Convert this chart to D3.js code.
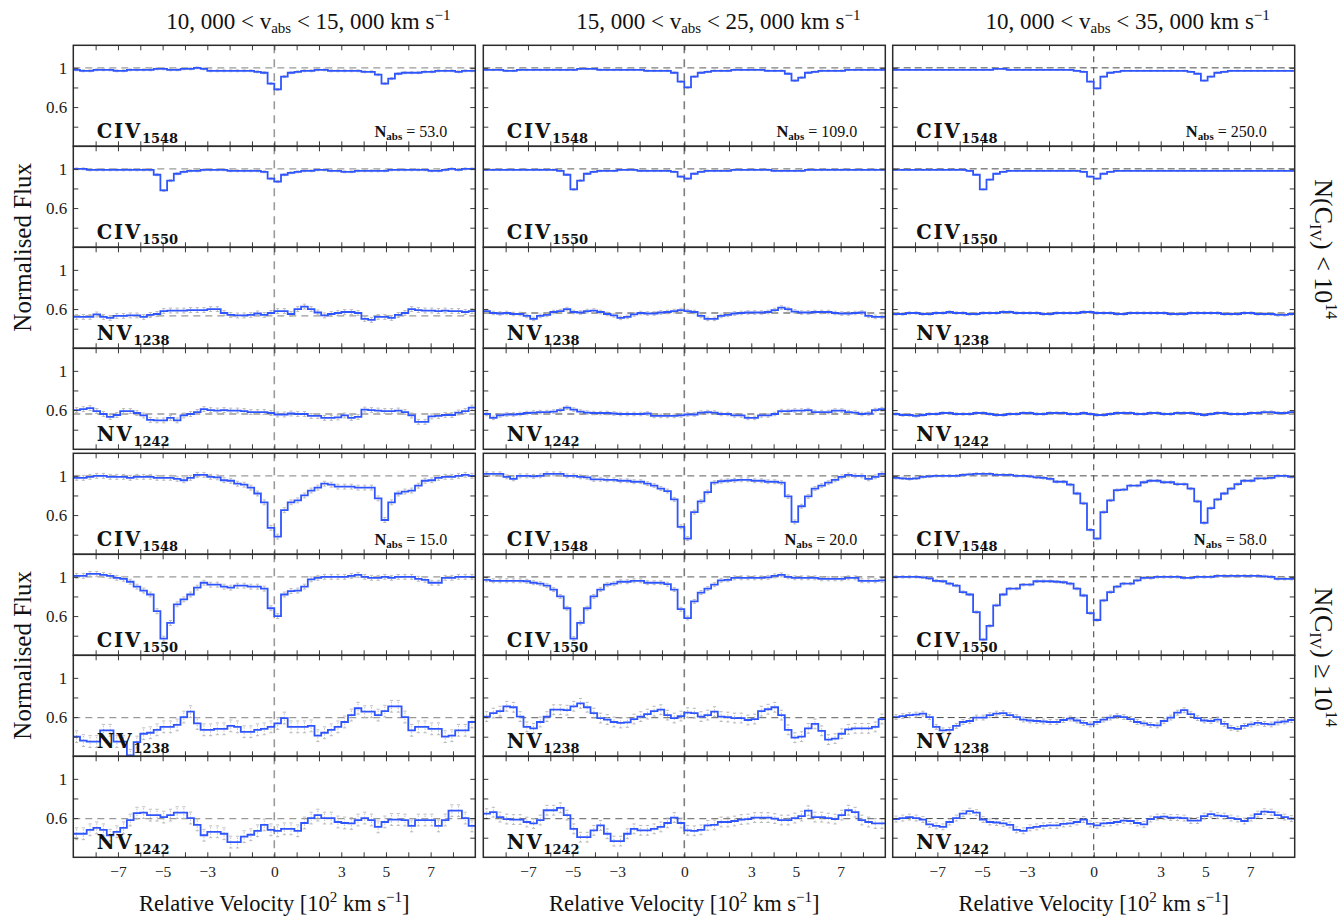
<!DOCTYPE html>
<html>
<head>
<meta charset="utf-8">
<script src="https://cdn.jsdelivr.net/npm/d3@7"></script>
<style>
  body { margin: 0; background: #fff; }
  svg { display: block; }
</style>
</head>
<body>
<svg id="chart" width="1339" height="917"></svg>
<script>
// ---- Stacked composite spectra: CIV doublet and NV doublet, binned in velocity ----

// Velocity bin centres [10^2 km/s]
const velocityBins = [-8.85,-8.55,-8.25,-7.95,-7.65,-7.35,-7.05,-6.75,-6.45,-6.15,
  -5.85,-5.55,-5.25,-4.95,-4.65,-4.35,-4.05,-3.75,-3.45,-3.15,
  -2.85,-2.55,-2.25,-1.95,-1.65,-1.35,-1.05,-0.75,-0.45,-0.15,
  0.15,0.45,0.75,1.05,1.35,1.65,1.95,2.25,2.55,2.85,
  3.15,3.45,3.75,4.05,4.35,4.65,4.95,5.25,5.55,5.85,
  6.15,6.45,6.75,7.05,7.35,7.65,7.95,8.25,8.55,8.85];

// Velocity windows (one per column)
const windowLow = ["10, 000", "15, 000", "10, 000"];
const windowHigh = ["15, 000", "25, 000", "35, 000"];

// Number of absorbers stacked, per column
const nAbsWeak = [53.0, 109.0, 250.0];
const nAbsStrong = [15.0, 20.0, 58.0];

// ---- N(CIV) < 10^14 ----
const civ1548Weak = [
  [.98,.97,.97,.98,.98,.98,.97,.97,.98,.98, .98,.98,.99,.99,.98,.98,.99,.99,1.0,.99, .97,.97,.97,.97,.97,.97,.97,.96,.95,.84, .78,.91,.95,.96,.97,.97,.98,.98,.97,.97, .97,.97,.97,.96,.96,.93,.84,.89,.94,.95, .95,.95,.96,.96,.97,.97,.97,.96,.97,.97],
  [.98,.98,.98,.97,.97,.98,.98,.98,.98,.98, .98,.98,.98,.98,.99,.99,.99,.98,.98,.98, .98,.98,.98,.98,.97,.97,.97,.97,.95,.86, .80,.91,.95,.96,.97,.97,.97,.98,.98,.98, .98,.98,.97,.97,.97,.94,.87,.90,.95,.96, .97,.97,.97,.97,.98,.98,.98,.98,.98,.98],
  [.98,.98,.98,.98,.98,.98,.98,.98,.98,.98, .98,.98,.98,.98,.98,.99,.99,.98,.98,.98, .98,.98,.98,.98,.98,.98,.98,.97,.96,.86, .79,.91,.95,.96,.97,.97,.97,.97,.97,.97, .97,.97,.97,.97,.96,.94,.87,.91,.95,.96, .97,.97,.97,.97,.97,.97,.97,.97,.97,.97]
];
const civ1550Weak = [
  [1.0,1.0,.99,.99,.99,.99,.99,.99,.99,.99, .99,.99,.94,.78,.88,.95,.97,.98,.98,.99, .99,.99,.99,.98,.98,.98,.98,.98,.97,.90, .87,.94,.96,.97,.98,.98,.99,.99,.98,.98, .97,.97,.98,.98,.98,.98,.98,.99,.99,.99, .99,.99,.99,.98,.98,.99,1.0,.99,1.0,1.0],
  [.99,.99,.99,.99,.99,.99,.99,.99,.99,.99, .99,.98,.94,.79,.88,.95,.97,.98,.98,.98, .99,.99,.99,.98,.98,.98,.98,.98,.97,.92, .90,.95,.97,.98,.98,.98,.98,.99,.99,.99, .99,.99,.99,.98,.98,.98,.98,.98,.99,.99, .99,.99,.99,.99,.99,.99,.99,.99,.99,.99],
  [.99,.99,.99,.99,.99,.99,.99,.99,.99,.99, .99,.98,.94,.79,.89,.95,.97,.98,.98,.98, .98,.98,.98,.98,.98,.98,.98,.98,.97,.92, .90,.95,.97,.98,.98,.98,.98,.98,.98,.98, .98,.98,.98,.98,.98,.98,.98,.98,.98,.98, .98,.98,.98,.98,.98,.98,.98,.98,.98,.98]
];
const nv1238Weak = [
  [.52,.52,.52,.545,.52,.51,.53,.53,.535,.535, .52,.54,.55,.58,.585,.585,.585,.59,.59,.59, .60,.60,.56,.54,.535,.535,.54,.555,.54,.56, .58,.58,.55,.60,.625,.60,.565,.535,.55,.56, .57,.57,.56,.50,.49,.52,.52,.51,.54,.56, .60,.59,.585,.585,.58,.585,.58,.58,.57,.58],
  [.58,.56,.555,.56,.55,.55,.53,.50,.53,.54, .57,.58,.60,.57,.565,.58,.585,.57,.55,.535, .51,.52,.545,.56,.555,.555,.565,.57,.58,.59, .58,.57,.53,.50,.50,.53,.54,.555,.56,.565, .565,.565,.57,.59,.615,.60,.575,.565,.565,.57, .57,.57,.56,.555,.555,.56,.565,.53,.52,.52],
  [.55,.55,.56,.56,.55,.55,.56,.56,.57,.56, .56,.55,.55,.56,.56,.56,.57,.57,.56,.56, .56,.56,.55,.55,.56,.56,.56,.56,.57,.57, .56,.56,.56,.55,.55,.56,.56,.56,.56,.56, .56,.55,.55,.55,.56,.56,.56,.56,.56,.55, .55,.55,.56,.56,.55,.55,.55,.54,.54,.55]
];
const nv1242Weak = [
  [.60,.61,.62,.59,.56,.53,.55,.59,.59,.57, .545,.50,.495,.495,.52,.495,.545,.56,.58,.61, .60,.595,.60,.595,.595,.59,.58,.58,.58,.57, .555,.555,.565,.56,.56,.54,.54,.52,.52,.525, .545,.52,.53,.605,.60,.595,.59,.59,.595,.58, .545,.48,.48,.535,.54,.55,.55,.575,.59,.625],
  [.56,.52,.545,.555,.555,.56,.57,.575,.58,.58, .585,.60,.625,.605,.585,.575,.57,.57,.57,.565, .56,.56,.56,.56,.565,.54,.54,.54,.54,.545, .555,.555,.575,.58,.575,.56,.56,.545,.545,.52, .52,.545,.545,.56,.59,.59,.595,.595,.60,.58, .58,.58,.595,.595,.58,.575,.56,.565,.60,.61],
  [.56,.55,.55,.54,.55,.56,.56,.57,.57,.56, .56,.56,.57,.57,.56,.55,.55,.56,.56,.57, .57,.56,.56,.57,.57,.57,.56,.56,.57,.56, .55,.55,.56,.57,.57,.57,.56,.56,.57,.57, .56,.56,.57,.57,.57,.56,.55,.56,.57,.57, .56,.56,.56,.57,.57,.58,.58,.57,.57,.58]
];

// ---- N(CIV) >= 10^14 ----
const civ1548Strong = [
  [.98,.98,.99,1.0,1.0,.99,.99,.99,.98,.99, .99,.99,.98,.98,.98,.97,.955,.98,1.01,1.01, .99,.985,.955,.95,.92,.91,.88,.82,.73,.47, .38,.65,.73,.75,.80,.85,.88,.92,.91,.89, .89,.89,.88,.88,.88,.77,.55,.73,.82,.84, .85,.90,.95,.955,.98,.99,.99,1.0,1.01,1.0],
  [1.02,1.02,1.02,.99,.97,1.0,1.0,.995,1.0,1.02, 1.02,1.02,1.0,1.0,.99,.985,.965,.965,.96,.96, .95,.95,.94,.94,.92,.90,.87,.845,.76,.48, .36,.63,.74,.835,.93,.945,.95,.955,.96,.96, .95,.95,.94,.94,.93,.79,.53,.69,.79,.87, .90,.93,.96,.99,1.01,1.0,1.0,.97,.99,1.02],
  [.98,.975,.97,.975,.99,.995,1.0,1.0,1.0,1.0, 1.01,1.015,1.02,1.02,1.02,1.01,1.01,1.01,1.0,1.0, .995,.985,.98,.97,.94,.94,.91,.82,.72,.45, .36,.63,.75,.855,.86,.90,.90,.935,.95,.95, .935,.935,.915,.915,.87,.74,.52,.67,.76,.82, .87,.915,.95,.95,.975,.975,.98,1.0,1.0,.99]
];
const civ1550Strong = [
  [1.01,1.01,1.03,1.03,1.02,1.01,.99,.98,.95,.90, .86,.82,.65,.37,.53,.72,.77,.82,.89,.94, .92,.92,.90,.89,.91,.91,.90,.90,.88,.68, .60,.82,.855,.86,.90,.975,.99,1.0,1.0,1.0, 1.0,1.01,1.02,1.0,.99,.99,1.0,.99,1.0,1.0, 1.0,.98,.97,.94,.94,.99,.99,1.0,1.0,1.0],
  [.97,.96,.96,.96,.96,.96,.955,.94,.93,.91, .87,.80,.68,.37,.53,.68,.80,.87,.92,.93, .95,.95,.96,.96,.94,.94,.94,.925,.87,.67, .58,.75,.84,.88,.92,.965,.97,.99,.99,.99, .99,.99,.995,1.01,1.02,1.0,.99,.99,.99,.99, .98,.98,.98,.98,.99,.99,.96,.96,.96,.965],
  [1.0,1.0,1.0,1.0,.995,.985,.96,.955,.93,.91, .845,.82,.64,.36,.50,.71,.82,.88,.88,.92, .92,.955,.955,.955,.95,.945,.93,.88,.81,.63, .56,.76,.845,.90,.93,.93,.965,.99,.99,1.0, 1.0,1.0,1.0,.99,.99,1.0,1.0,1.0,1.01,1.01, 1.01,1.01,1.01,1.01,1.01,1.005,1.0,.98,.98,.98]
];
const nv1238Strong = [
  [.40,.36,.35,.35,.465,.465,.35,.35,.21,.345, .43,.44,.47,.50,.50,.52,.60,.655,.535,.47, .47,.48,.48,.51,.50,.45,.45,.47,.48,.50, .535,.59,.50,.50,.50,.51,.41,.44,.47,.50, .55,.62,.69,.655,.655,.62,.66,.71,.71,.60, .465,.50,.50,.48,.48,.40,.41,.465,.465,.55],
  [.605,.64,.66,.71,.70,.605,.50,.485,.55,.605, .675,.675,.67,.71,.74,.70,.64,.59,.575,.55, .54,.545,.58,.605,.63,.66,.675,.62,.59,.61, .645,.64,.605,.62,.655,.605,.60,.59,.59,.57, .58,.66,.68,.70,.62,.47,.39,.40,.485,.53, .46,.37,.38,.43,.475,.485,.485,.485,.50,.58],
  [.60,.61,.62,.625,.635,.60,.50,.465,.47,.51, .55,.56,.595,.595,.62,.635,.64,.62,.60,.575, .565,.56,.555,.55,.55,.57,.585,.565,.54,.525, .55,.575,.595,.61,.60,.58,.55,.535,.52,.515, .56,.595,.645,.67,.63,.59,.565,.56,.575,.53, .49,.48,.51,.525,.54,.53,.525,.545,.555,.57]
];
const nv1242Strong = [
  [.44,.44,.48,.50,.48,.425,.46,.50,.58,.65, .655,.63,.63,.61,.63,.655,.655,.60,.53,.425, .46,.46,.44,.355,.355,.41,.43,.47,.53,.48, .47,.49,.49,.47,.55,.60,.63,.60,.60,.56, .55,.545,.58,.60,.58,.51,.56,.585,.585,.58, .52,.58,.58,.58,.52,.58,.675,.675,.60,.52],
  [.645,.66,.61,.59,.585,.585,.56,.545,.58,.68, .68,.705,.63,.49,.405,.405,.475,.525,.44,.365, .365,.44,.49,.475,.475,.49,.51,.55,.605,.55, .475,.47,.48,.525,.53,.56,.56,.57,.585,.59, .605,.605,.605,.595,.58,.58,.60,.62,.675,.61, .61,.60,.59,.63,.68,.66,.58,.56,.545,.545],
  [.59,.60,.61,.60,.585,.535,.52,.51,.56,.60, .645,.67,.655,.585,.56,.555,.545,.53,.48,.47, .50,.51,.52,.525,.525,.54,.545,.56,.585,.54, .525,.545,.55,.56,.575,.57,.55,.535,.59,.61, .615,.605,.605,.60,.575,.575,.62,.64,.625,.62, .60,.59,.57,.60,.64,.665,.66,.63,.61,.595]
];

// Typical 1-sigma flux uncertainty per panel row (columns: velocity windows)
const fluxErrWeak   = [[.010,.008,.006],[.010,.008,.006],[.025,.018,.012],[.025,.018,.012]];
const fluxErrStrong = [[.025,.020,.012],[.025,.020,.012],[.060,.050,.025],[.060,.050,.030]];

// Continuum reference level per row (dashed line), per column
const refLevelWeak   = [[1,1,1],[1,1,1],[.53,.56,.56],[.56,.56,.56]];
const refLevelStrong = [[1,1,1],[1,1,1],[.595,.595,.595],[.595,.595,.595]];

// Ion labels per row
const ionNames = ["CIV","CIV","NV","NV"];
const ionWaves = ["1548","1550","1238","1242"];

// Axis ticks
const xTickValues = [-8,-7,-6,-5,-4,-3,-2,-1,0,1,2,3,4,5,6,7,8];
const xTickLabels = [-7,-5,-3,0,3,5,7];
const yTickValues = [0.4,0.6,0.8,1.0];
const yTickLabels = [1.0,0.6];

// ---- layout ----
const svg = d3.select("#chart");
const colLeft = [73.3, 483.3, 892.7];
const panelW = 402, panelH = 101;
const groupTop = [45.3, 453.3];
const SERIF = "'Liberation Serif','DejaVu Serif',serif";
const BOLDSERIF = "'DejaVu Serif','Liberation Serif',serif";
const lineBlue = "#2f55ff";
const dashColor = ["#9a9a9a", "#7d7d7d", "#4a4a4a"];

const x = d3.scaleLinear().domain([-9, 9]).range([0, panelW]);
const y = d3.scaleLinear().domain([0.2, 1.23]).range([panelH, 0]);
const binHalf = (velocityBins[1] - velocityBins[0]) / 2;

// text made of runs with vertical shifts (sub/superscripts)
function richText(parent, parts, attrs) {
  const t = parent.append("text").attr("font-family", SERIF).attr("fill", "#111");
  Object.entries(attrs || {}).forEach(([k, v]) => t.attr(k, v));
  let prev = 0;
  parts.forEach(p => {
    const shift = p.shift || 0;
    const ts = t.append("tspan").text(p.t).attr("dy", shift - prev);
    if (p.size) ts.attr("font-size", p.size);
    if (p.weight) ts.attr("font-weight", p.weight);
    if (p.family) ts.attr("font-family", p.family);
    if (p.ls != null) ts.attr("letter-spacing", p.ls);
    prev = shift;
  });
  return t;
}

const groups = [
  { rows: [civ1548Weak, civ1550Weak, nv1238Weak, nv1242Weak], err: fluxErrWeak, ref: refLevelWeak, nAbs: nAbsWeak },
  { rows: [civ1548Strong, civ1550Strong, nv1238Strong, nv1242Strong], err: fluxErrStrong, ref: refLevelStrong, nAbs: nAbsStrong }
];

const stepLine = d3.line()
  .x(d => x(d[0])).y(d => y(d[1]))
  .curve(d3.curveStepAfter);

const contentLayer = svg.append("g");
const frameLayer = svg.append("g");
const labelLayer = svg.append("g");
const defs = svg.append("defs");
defs.append("clipPath").attr("id", "panelClip")
  .append("rect").attr("x", 0).attr("y", 0).attr("width", panelW).attr("height", panelH);

groups.forEach((grp, g) => {
  grp.rows.forEach((rowData, r) => {
    for (let c = 0; c < 3; c++) {
      const px = colLeft[c], py = groupTop[g] + r * panelH;
      const flux = rowData[c];
      const sig = grp.err[r][c];
      const panel = contentLayer.append("g")
        .attr("transform", `translate(${px},${py})`)
        .attr("clip-path", "url(#panelClip)");

      // continuum reference
      panel.append("line")
        .attr("x1", 0).attr("x2", panelW)
        .attr("y1", y(grp.ref[r][c])).attr("y2", y(grp.ref[r][c]))
        .attr("stroke", dashColor[c]).attr("stroke-width", c === 2 ? 1 : 1.3)
        .attr("stroke-dasharray", c === 2 ? "7,4" : "7,5");
      // zero velocity marker
      panel.append("line")
        .attr("x1", x(0)).attr("x2", x(0)).attr("y1", 0).attr("y2", panelH)
        .attr("stroke", dashColor[c]).attr("stroke-width", c === 2 ? 1.1 : 1.6)
        .attr("stroke-dasharray", c === 2 ? "6,5" : "8,6");

      // error bars
      const eb = panel.append("g").attr("stroke", "#b4b4b4").attr("stroke-width", 0.9);
      velocityBins.forEach((v, i) => {
        const cx = x(v), y0 = y(flux[i] - sig), y1 = y(flux[i] + sig);
        eb.append("line").attr("x1", cx).attr("x2", cx).attr("y1", y0).attr("y2", y1)
          .attr("stroke-dasharray", "1.5,1.5");
        eb.append("line").attr("x1", cx - 1.6).attr("x2", cx + 1.6).attr("y1", y0).attr("y2", y0);
        eb.append("line").attr("x1", cx - 1.6).attr("x2", cx + 1.6).attr("y1", y1).attr("y2", y1);
      });

      // stepped spectrum
      const pts = velocityBins.map((v, i) => [v - binHalf, flux[i]]);
      pts.push([velocityBins[velocityBins.length - 1] + binHalf, flux[flux.length - 1]]);
      panel.append("path").attr("d", stepLine(pts))
        .attr("fill", "none").attr("stroke", lineBlue).attr("stroke-width", 1.8);

      // frame + inward ticks
      const fr = frameLayer.append("g").attr("transform", `translate(${px},${py})`);
      const tickAxes = [
        { ax: d3.axisBottom(x).tickValues(xTickValues), tx: 0, ty: panelH },
        { ax: d3.axisTop(x).tickValues(xTickValues), tx: 0, ty: 0 },
        { ax: d3.axisLeft(y).tickValues(yTickValues), tx: 0, ty: 0 },
        { ax: d3.axisRight(y).tickValues(yTickValues), tx: panelW, ty: 0 }
      ];
      tickAxes.forEach(a => {
        const ag = fr.append("g").attr("transform", `translate(${a.tx},${a.ty})`)
          .call(a.ax.tickSize(-5).tickFormat(""));
        ag.select(".domain").remove();
        ag.selectAll(".tick line").attr("stroke", "#3a3a3a").attr("stroke-width", 1);
      });
      fr.append("rect").attr("x", 0).attr("y", 0).attr("width", panelW).attr("height", panelH)
        .attr("fill", "none").attr("stroke", "#2b2b2b").attr("stroke-width", 1.5);

      // y tick labels (first column only)
      if (c === 0) {
        const ly = fr.append("g").call(
          d3.axisLeft(y).tickValues(yTickLabels).tickSize(0).tickPadding(6)
            .tickFormat(d => d === 1 ? "1" : d3.format(".1f")(d)));
        ly.select(".domain").remove();
        ly.selectAll("text").attr("font-family", SERIF).attr("font-size", 17).attr("fill", "#222");
      }
      // x tick labels (bottom row only)
      if (g === 1 && r === 3) {
        const lx = fr.append("g").attr("transform", `translate(0,${panelH})`).call(
          d3.axisBottom(x).tickValues(xTickLabels).tickSize(0).tickPadding(9)
            .tickFormat(d => d < 0 ? "\u2212" + Math.abs(d) : String(d)));
        lx.select(".domain").remove();
        lx.selectAll("text").attr("font-family", SERIF).attr("font-size", 15.5).attr("fill", "#222");
      }

      // ion label
      const lab = labelLayer.append("g").attr("transform", `translate(${px},${py})`);
      richText(lab, [
        { t: ionNames[r], size: 19.5, weight: "bold", family: BOLDSERIF, ls: 1.8 },
        { t: ionWaves[r], size: 13, weight: "bold", family: BOLDSERIF, shift: 5, ls: 0 }
      ], { x: 23.5, y: 93 });

      // number of absorbers
      if (r === 0) {
        richText(lab, [
          { t: "N", size: 16.5, weight: "bold" },
          { t: "abs", size: 11, weight: "bold", shift: 3 },
          { t: " = " + grp.nAbs[c].toFixed(1), size: 16, shift: 0 }
        ], { x: 374, y: 91.5, "text-anchor": "end" });
      }
    }
  });
});

// column titles and x-axis labels
for (let c = 0; c < 3; c++) {
  const cx = colLeft[c] + panelW / 2;
  richText(labelLayer, [
    { t: windowLow[c] + " < v", size: 23 },
    { t: "abs", size: 15, shift: 4 },
    { t: " < " + windowHigh[c] + " km s", size: 23, shift: 0 },
    { t: "\u22121", size: 15, shift: -9 }
  ], { x: cx + 34, y: 29, "text-anchor": "middle" });

  richText(labelLayer, [
    { t: "Relative Velocity [10", size: 22.5 },
    { t: "2", size: 15, shift: -9 },
    { t: " km s", size: 22.5, shift: 0 },
    { t: "\u22121", size: 15, shift: -9 },
    { t: "]", size: 22.5, shift: 0 }
  ], { x: cx, y: 911, "text-anchor": "middle" });
}

// group labels on the sides
const groupMid = groupTop.map(t => t + 2 * panelH);
const rightLabels = [" < 10", " \u2265 10"];
groupMid.forEach((m, g) => {
  richText(labelLayer, [{ t: "Normalised Flux", size: 25 }],
    { transform: `translate(31,${m}) rotate(-90)`, "text-anchor": "middle" });
  richText(labelLayer, [
    { t: "N(C", size: 26 },
    { t: "IV", size: 16, shift: 5 },
    { t: ")" + rightLabels[g], size: 26, shift: 0 },
    { t: "14", size: 16, shift: -11 }
  ], { transform: `translate(1315,${m + 2}) rotate(90)`, "text-anchor": "middle" });
});
</script>
</body>
</html>
